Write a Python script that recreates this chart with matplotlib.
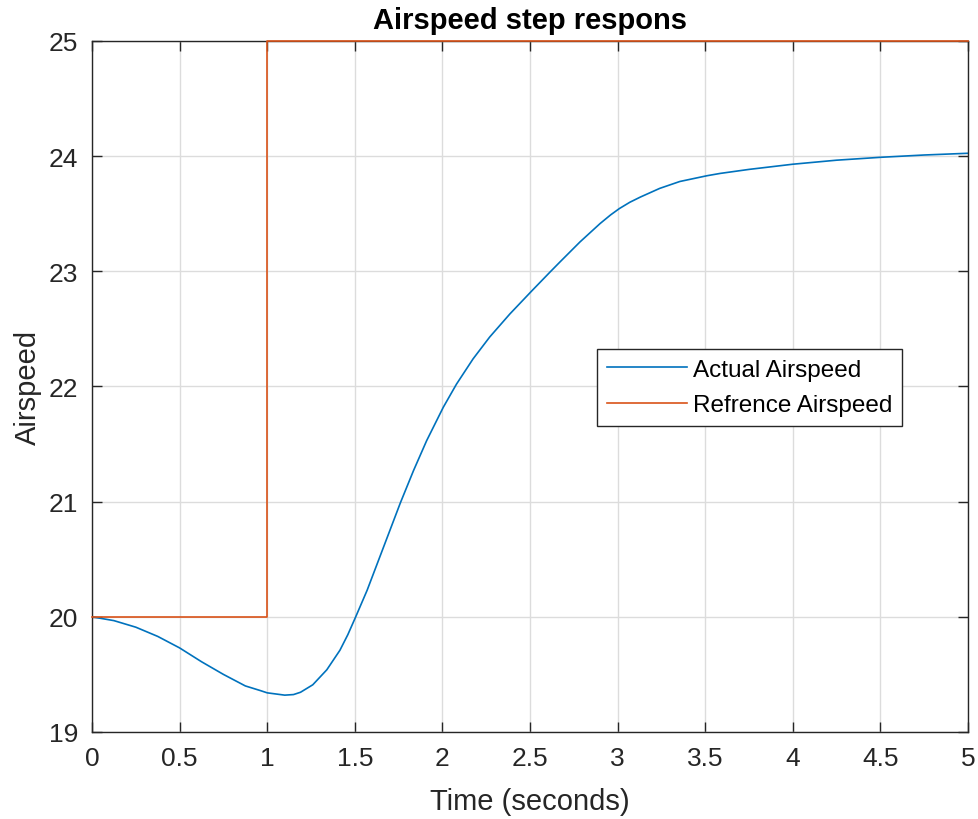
import matplotlib.pyplot as plt

plt.rcParams['font.family'] = ['Liberation Sans', 'DejaVu Sans']

# Simulated airspeed response (seconds, m/s)
time_s = [0, 0.125, 0.25, 0.375, 0.5, 0.625, 0.75, 0.875, 0.96, 1.0, 1.05,
          1.1, 1.15, 1.19, 1.26, 1.34, 1.415, 1.46, 1.505, 1.57, 1.635, 1.71,
          1.76, 1.835, 1.91, 2.005, 2.08, 2.175, 2.27, 2.385, 2.51, 2.615,
          2.67, 2.785, 2.9, 2.96, 3.01, 3.07, 3.13, 3.24, 3.355, 3.51, 3.585,
          3.75, 4.0, 4.25, 4.5, 4.75, 5.0]
airspeed = [20.0, 19.967, 19.91, 19.83, 19.73, 19.61, 19.50, 19.40, 19.36,
            19.34, 19.33, 19.32, 19.325, 19.345, 19.41, 19.54, 19.71, 19.845,
            20.0, 20.23, 20.49, 20.79, 20.99, 21.27, 21.53, 21.82, 22.02,
            22.24, 22.43, 22.63, 22.83, 22.995, 23.08, 23.255, 23.415, 23.49,
            23.545, 23.60, 23.645, 23.72, 23.78, 23.83, 23.85, 23.885, 23.93,
            23.965, 23.99, 24.01, 24.025]

# Reference step: 20 -> 25 at t = 1 s
ref_time = [0, 1, 1, 5]
ref_speed = [20, 20, 25, 25]

x_ticks = [0, 0.5, 1, 1.5, 2, 2.5, 3, 3.5, 4, 4.5, 5]
y_ticks = [19, 20, 21, 22, 23, 24, 25]

fig = plt.figure(figsize=(9.79, 8.2), dpi=100)
ax = fig.add_axes([0.094, 0.1061, 0.8948, 0.8427])

ax.plot(time_s, airspeed, color='#0072BD', linewidth=1.2,
        solid_joinstyle='round', label='Actual Airspeed')
ax.plot(ref_time, ref_speed, color='#D95319', linewidth=1.2,
        zorder=3, clip_on=False, label='Refrence Airspeed')

ax.set_xlim(0, 5)
ax.set_ylim(19, 25)
ax.set_xticks(x_ticks)
ax.set_xticklabels([f'{v:g}' for v in x_ticks])
ax.set_yticks(y_ticks)

ax.grid(True, color='#dcdcdc', linewidth=1.0)
ax.set_axisbelow(True)
ax.tick_params(direction='in', top=True, right=True, length=7, width=1.0,
               colors='#262626', labelsize=19)
ax.tick_params(axis='x', pad=10)
ax.tick_params(axis='y', pad=10)
for side in ax.spines.values():
    side.set_color('#262626')
    side.set_linewidth(1.0)

ax.set_title('Airspeed step respons', fontsize=21, fontweight='bold', pad=9)
ax.set_xlabel('Time (seconds)', fontsize=21, color='#262626', labelpad=12)
ax.set_ylabel('Airspeed', fontsize=21, color='#262626', labelpad=5)

leg = ax.legend(loc='upper left', bbox_to_anchor=(0.5765, 0.554),
                borderaxespad=0, fontsize=17.5, handlelength=3.3,
                handletextpad=0.25, borderpad=0.4, labelspacing=0.55,
                fancybox=False, framealpha=1)
leg.get_frame().set_edgecolor('#262626')
leg.get_frame().set_linewidth(1.0)

plt.savefig('out.png', dpi=100)
